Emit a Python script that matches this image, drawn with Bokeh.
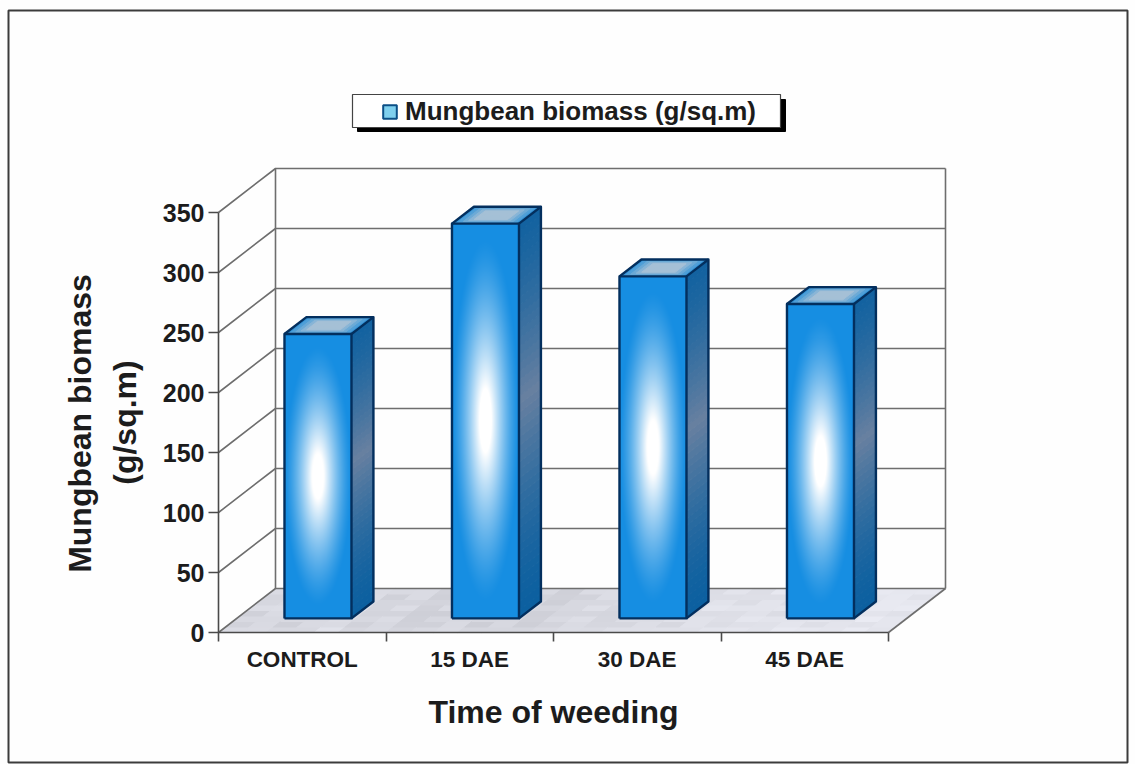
import numpy as np
from bokeh.plotting import figure
from bokeh.embed import file_html
from bokeh.resources import INLINE
from bokeh.models import (LinearAxis, FixedTicker, Label, Legend, LegendItem, Range1d)

categories = ["CONTROL", "15 DAE", "30 DAE", "45 DAE"]
biomass = [237, 329, 285, 262]
y_ticks = [0, 50, 100, 150, 200, 250, 300, 350]
series_name = "Mungbean biomass (g/sq.m)"
y_title = ["Mungbean biomass", "(g/sq.m)"]
x_title = "Time of weeding"

W, H = 1135, 764
PX_X = 167.5        # pixels per category
PX_Y = 1.2          # pixels per value unit
X0, Y0 = 218, 632   # origin inside the figure (pixels from left / top)
DX, DY = 57 / PX_X, 44 / PX_Y  # full depth of the 3D box in data units
FONT = "Liberation Sans"
INK = "#1c1c1c"

p = figure(width=W, height=H, output_backend="svg", toolbar_location=None,
           x_axis_location=None, y_axis_location=None, min_border=0,
           x_range=Range1d(-X0 / PX_X, (W - X0) / PX_X),
           y_range=Range1d(-(H - Y0) / PX_Y, Y0 / PX_Y))
p.outline_line_color = None
p.grid.visible = False
p.background_fill_color = "#fefefe"
p.border_fill_color = "#fefefe"


def px(x):  # image pixel -> data
    return (x - X0) / PX_X


def py(y):
    return (Y0 - y) / PX_Y


def proj(x, v, d):
    return x + d * DX, v + d * DY


# outer frame
p.quad(left=[px(8)], right=[px(1127)], top=[py(10)], bottom=[py(762)],
       fill_color=None, line_color="#3c3c3c", line_width=2)

# floor with a soft marbled look
floor_shades = [214, 218, 212, 216, 220, 212, 216, 208, 212, 218, 210, 214, 208, 214,
                218, 214, 218, 222, 220, 224, 222, 226, 224, 228, 226, 228, 230, 228]
floor_rows = [2, -2, 1, -3, 3, 0, -1, 2]
fx, fy, fc = [], [], []
n, m = len(floor_shades), len(floor_rows)
for i in range(n):
    for j in range(m):
        a, b = 4 * i / n, 4 * (i + 1) / n
        d0, d1 = j / m, (j + 1) / m
        c = [proj(a, 0, d0), proj(b, 0, d0), proj(b, 0, d1), proj(a, 0, d1)]
        fx.append([q[0] for q in c])
        fy.append([q[1] for q in c])
        g = floor_shades[i] + floor_rows[j] + floor_rows[(i + j) % m]
        fc.append("#%02x%02x%02x" % (g, g + 1, min(g + 9, 255)))
p.patches(fx, fy, fill_color=fc, line_color=fc, line_width=1)

# back wall and side wall gridlines
gx, gy = [], []
for t in y_ticks:
    a, b, c = proj(0, t, 0), proj(0, t, 1), proj(4, t, 1)
    gx.append([a[0], b[0], c[0]])
    gy.append([a[1], b[1], c[1]])
a, b = proj(0, 0, 1), proj(0, y_ticks[-1], 1)
gx.append([a[0], b[0]]); gy.append([a[1], b[1]])
a, b = proj(4, 0, 1), proj(4, y_ticks[-1], 1)
gx.append([a[0], b[0]]); gy.append([a[1], b[1]])
a, b = proj(4, 0, 0), proj(4, 0, 1)
gx.append([a[0], b[0]]); gy.append([a[1], b[1]])
p.multi_line(gx, gy, line_color="#6e6e6e", line_width=1.6)


def lerp(c1, c2, t):
    return tuple(int(round(u + (v - u) * t)) for u, v in zip(c1, c2))


def hexc(c):
    return "#%02x%02x%02x" % c


BW = 0.40
D0, D1 = 0.32, 0.705
SHIFT = -0.015
NAVY = "#032f5e"
BLUE = np.array([22, 142, 226])
for i, v in enumerate(biomass):
    xl, xr = i + 0.5 + SHIFT - BW / 2, i + 0.5 + SHIFT + BW / 2
    # side face: dark at both ends, grey in the middle
    sx, sy, sc = [], [], []
    steps = 48
    for k in range(steps):
        v0, v1 = v * k / steps, v * (k + 1) / steps
        c = [proj(xr, v0, D0), proj(xr, v0, D1), proj(xr, v1, D1), proj(xr, v1, D0)]
        sx.append([q[0] for q in c]); sy.append([q[1] for q in c])
        t = 1 - abs((k + 0.5) / steps - 0.55) / 0.55
        sc.append(hexc(lerp((12, 96, 160), (104, 128, 160), max(t, 0) ** 1.6)))
    p.patches(sx, sy, fill_color=sc, line_color=sc, line_width=1)

    # top face: nested parallelograms
    for k in range(8):
        s = 1 - k / 8
        cx, cd = (xl + xr) / 2, (D0 + D1) / 2
        hw, hd = (xr - xl) / 2 * s, (D1 - D0) / 2 * s
        c = [proj(cx - hw, v, cd - hd), proj(cx + hw, v, cd - hd),
             proj(cx + hw, v, cd + hd), proj(cx - hw, v, cd + hd)]
        col = hexc(lerp((52, 148, 215), (165, 192, 214), min(k / 4, 1)))
        p.patch([q[0] for q in c], [q[1] for q in c], fill_color=col, line_color=col)

    # front face with a soft white glow in the middle
    fx0, fy0 = proj(xl, 0, D0)
    fx1, fy1 = proj(xr, v, D0)
    rows, cols = int(round(v * PX_Y)), int(round(BW * PX_X))
    yy, xx = np.mgrid[0:rows, 0:cols]
    uu = np.abs((xx + 0.5) / cols - 0.5) * 2
    vv = np.abs((yy + 0.5) / rows - 0.5) * 2
    glow = np.clip(1 - np.sqrt((uu / 1.0) ** 2 + (vv / 0.92) ** 2), 0, 1) ** 1.35
    glow = np.minimum(glow * 1.3, 1)
    rgb = BLUE[None, None, :] + (np.array([255, 255, 255]) - BLUE)[None, None, :] * glow[..., None]
    img = np.zeros((rows, cols), dtype=np.uint32)
    view = img.view(dtype=np.uint8).reshape((rows, cols, 4))
    view[..., :3] = rgb.astype(np.uint8)
    view[..., 3] = 255
    p.image_rgba(image=[img], x=fx0, y=fy0, dw=fx1 - fx0, dh=fy1 - fy0)

    # outlines of the box
    lines = [
        [proj(xl, 0, D0), proj(xr, 0, D0), proj(xr, v, D0), proj(xl, v, D0), proj(xl, 0, D0)],
        [proj(xr, 0, D0), proj(xr, 0, D1), proj(xr, v, D1), proj(xl, v, D1), proj(xl, v, D0)],
        [proj(xr, v, D0), proj(xr, v, D1)],
    ]
    p.multi_line([[q[0] for q in l] for l in lines], [[q[1] for q in l] for l in lines],
                 line_color=NAVY, line_width=2.4, line_join="round")

# real axes, pinned to the front plane of the box
yax = LinearAxis(fixed_location=0, bounds=(0, y_ticks[-1]), ticker=FixedTicker(ticks=y_ticks))
yax.axis_line_color = "#4a4a4a"
yax.axis_line_width = 1.6
yax.major_tick_line_color = "#4a4a4a"
yax.major_tick_line_width = 1.6
yax.major_tick_out = 10
yax.major_tick_in = 0
yax.minor_tick_line_color = None
yax.major_label_standoff = 4
yax.major_label_text_font = FONT
yax.major_label_text_font_style = "bold"
yax.major_label_text_font_size = "25px"
yax.major_label_text_color = INK
p.add_layout(yax, "left")

x_pos = [i + 0.5 for i in range(len(categories))]
xax = LinearAxis(fixed_location=0, bounds=(0, len(categories)),
                 ticker=FixedTicker(ticks=x_pos, minor_ticks=list(range(len(categories) + 1))))
xax.major_label_overrides = {x: c for x, c in zip(x_pos, categories)}
xax.axis_line_color = "#4a4a4a"
xax.axis_line_width = 1.6
xax.major_tick_line_color = None
xax.major_tick_out = 0
xax.major_tick_in = 0
xax.minor_tick_line_color = "#4a4a4a"
xax.minor_tick_line_width = 1.6
xax.minor_tick_out = 9
xax.minor_tick_in = 0
xax.major_label_standoff = 5
xax.major_label_text_font = FONT
xax.major_label_text_font_style = "bold"
xax.major_label_text_font_size = "22.5px"
xax.major_label_text_color = INK
p.add_layout(xax, "below")

# axis titles
p.add_layout(Label(x=px(553), y=py(711), text=x_title, text_font=FONT, text_font_style="bold",
                   text_font_size="32px", text_color=INK, text_align="center", text_baseline="middle"))
p.add_layout(Label(x=px(79), y=py(423), text=y_title[0], text_font=FONT, text_font_style="bold",
                   text_font_size="32px", text_color=INK, text_align="center", text_baseline="middle",
                   angle=np.pi / 2))
p.add_layout(Label(x=px(124), y=py(422), text=y_title[1], text_font=FONT, text_font_style="bold",
                   text_font_size="32px", text_color=INK, text_align="center", text_baseline="middle",
                   angle=np.pi / 2))

# legend box with a hard black shadow; the legend itself only holds key and label
p.quad(left=[px(357)], right=[px(785)], top=[py(99)], bottom=[py(131)], fill_color="black", line_color="black")
p.quad(left=[px(352)], right=[px(780)], top=[py(94)], bottom=[py(127)], fill_color="white", line_color="#444444",
       line_width=1.2)
key = p.quad(left=[np.nan], right=[np.nan], top=[np.nan], bottom=[np.nan],
             fill_color="#7fd0ee", line_color="#0b4f86", line_width=2)
leg = Legend(items=[LegendItem(label=series_name, renderers=[key])],
             location=(381, H - 127), orientation="horizontal", margin=0, padding=0,
             spacing=0, label_height=24, glyph_height=17, glyph_width=17, label_standoff=7,
             label_text_font=FONT, label_text_font_style="bold", label_text_font_size="26px",
             label_text_color=INK, border_line_color=None,
             background_fill_alpha=0)
p.add_layout(leg, "center")

open("out.html", "w").write(file_html(p, INLINE))
